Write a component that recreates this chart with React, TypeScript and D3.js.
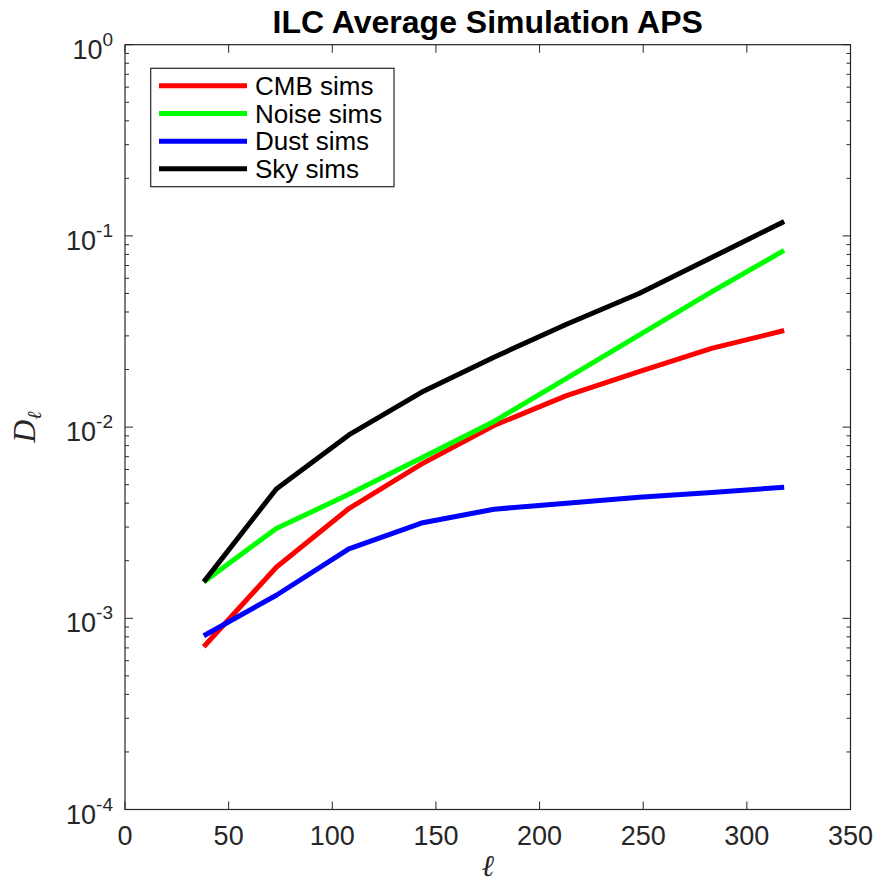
import React from "react";
import * as d3 from "d3";

const ells = [38, 73, 108, 143, 178, 213, 248, 283, 318];
const cmbSims = [7.1e-4, 1.85e-3, 3.75e-3, 6.4e-3, 1.02e-2, 1.46e-2, 1.95e-2, 2.58e-2, 3.2e-2];
const noiseSims = [1.55e-3, 2.95e-3, 4.45e-3, 6.9e-3, 1.07e-2, 1.8e-2, 3.03e-2, 5.1e-2, 8.4e-2];
const dustSims = [8.1e-4, 1.32e-3, 2.31e-3, 3.15e-3, 3.72e-3, 4.0e-3, 4.3e-3, 4.55e-3, 4.85e-3];
const skySims = [1.55e-3, 4.75e-3, 9.1e-3, 1.52e-2, 2.32e-2, 3.45e-2, 5.0e-2, 7.7e-2, 1.19e-1];

const seriesNames = ["CMB sims", "Noise sims", "Dust sims", "Sky sims"];
const seriesColors = ["#ff0000", "#00ff00", "#0000ff", "#000000"];
const seriesValues = [cmbSims, noiseSims, dustSims, skySims];

const xTicks = [0, 50, 100, 150, 200, 250, 300, 350];
const yExponents = [0, -1, -2, -3, -4];

const W = 880;
const H = 882;
const L = 125;
const R = 850.5;
const T = 44.7;
const B = 809.5;
const AX = "#262626";

export default function App() {
  const x = d3.scaleLinear().domain([0, 350]).range([L, R]);
  const y = d3.scaleLog().domain([1e-4, 1]).range([B, T]);
  const line = d3
    .line<number>()
    .x((_, i) => x(ells[i]))
    .y((v) => y(v));

  const minor: number[] = [];
  for (let e = -4; e < 0; e++) {
    for (let m = 2; m <= 9; m++) minor.push(m * Math.pow(10, e));
  }

  const legendY = [85.7, 113.5, 141.2, 168.8];

  return (
    <svg
      width={W}
      height={H}
      style={{ position: "absolute", left: 0, top: 0, background: "#fff" }}
      fontFamily="'Liberation Sans', Arial, sans-serif"
    >
      <rect x={0} y={0} width={W} height={H} fill="#fff" />
      <rect x={L} y={T} width={R - L} height={B - T} fill="#fff" />

      {seriesValues.map((vals, i) => (
        <path
          key={i}
          d={line(vals) || ""}
          fill="none"
          stroke={seriesColors[i]}
          strokeWidth={5}
          strokeLinejoin="round"
        />
      ))}

      <rect x={L} y={T} width={R - L} height={B - T} fill="none" stroke={AX} strokeWidth={1.2} />

      {xTicks.map((t) => (
        <g key={"xt" + t}>
          <line x1={x(t)} x2={x(t)} y1={B} y2={B - 8} stroke={AX} strokeWidth={1} />
          <line x1={x(t)} x2={x(t)} y1={T} y2={T + 8} stroke={AX} strokeWidth={1} />
          <text x={x(t)} y={845} textAnchor="middle" fontSize={27} fill={AX}>
            {t}
          </text>
        </g>
      ))}

      {yExponents.map((e) => {
        const yy = y(Math.pow(10, e));
        return (
          <g key={"yt" + e}>
            <line x1={L} x2={L + 8} y1={yy} y2={yy} stroke={AX} strokeWidth={1} />
            <line x1={R} x2={R - 8} y1={yy} y2={yy} stroke={AX} strokeWidth={1} />
            <text x={113} y={yy + 14} textAnchor="end" fontSize={27} fill={AX}>
              10
              <tspan fontSize={19} dy={-13}>
                {String(e)}
              </tspan>
            </text>
          </g>
        );
      })}

      {minor.map((v, i) => (
        <g key={"ym" + i}>
          <line x1={L} x2={L + 4} y1={y(v)} y2={y(v)} stroke={AX} strokeWidth={1} />
          <line x1={R} x2={R - 4} y1={y(v)} y2={y(v)} stroke={AX} strokeWidth={1} />
        </g>
      ))}

      <text x={(L + R) / 2} y={33} textAnchor="middle" fontSize={32} fontWeight="bold" fill="#000">
        ILC Average Simulation APS
      </text>

      <text
        x={(L + R) / 2}
        y={876}
        textAnchor="middle"
        fontSize={30}
        fontStyle="italic"
        fontFamily="'Liberation Serif', 'DejaVu Serif', serif"
        fill={AX}
      >
        ℓ
      </text>
      <text
        transform={`translate(35,427) rotate(-90)`}
        textAnchor="middle"
        fontSize={32}
        fontStyle="italic"
        fontFamily="'Liberation Serif', 'DejaVu Serif', serif"
        fill={AX}
      >
        D
        <tspan fontSize={20} dy={6}>
          ℓ
        </tspan>
      </text>

      <rect x={150.7} y={68.3} width={243.3} height={118.4} fill="#fff" stroke={AX} strokeWidth={1.2} />
      {seriesNames.map((n, i) => (
        <g key={"lg" + i}>
          <line x1={159} x2={247} y1={legendY[i]} y2={legendY[i]} stroke={seriesColors[i]} strokeWidth={5} />
          <text x={255} y={legendY[i] + 9} fontSize={26} fill="#000">
            {n}
          </text>
        </g>
      ))}
    </svg>
  );
}
